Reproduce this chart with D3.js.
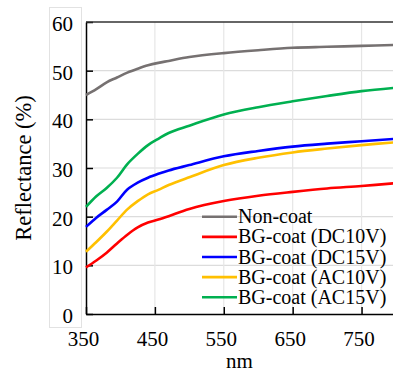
<!DOCTYPE html>
<html>
<head>
<meta charset="utf-8">
<script src="https://cdn.jsdelivr.net/npm/d3@7"></script>
<style>
  body { margin: 0; background: #fff; }
  svg { display: block; font-family: "Liberation Serif", "Times New Roman", serif; }
</style>
</head>
<body>
<div id="chart"></div>
<script>
// wavelength (nm)
const wavelengths = [350, 365, 380, 395, 410, 425, 440, 455, 470, 500, 550, 600, 650, 700, 750, 800];

// reflectance (%) per sample
const nonCoat = [45.0, 46.2, 47.6, 48.6, 49.6, 50.4, 51.1, 51.6, 52.0, 52.8, 53.6, 54.2, 54.7, 54.9, 55.1, 55.3];
const dc10v   = [9.6, 11.0, 12.6, 14.5, 16.3, 17.8, 18.8, 19.4, 20.1, 21.6, 23.2, 24.3, 25.1, 25.8, 26.3, 26.9];
const dc15v   = [17.9, 19.8, 21.4, 23.1, 25.6, 27.0, 28.0, 28.8, 29.5, 30.6, 32.4, 33.5, 34.4, 35.0, 35.5, 36.0];
const ac10v   = [12.8, 14.8, 16.9, 19.2, 21.5, 23.2, 24.6, 25.5, 26.5, 28.1, 30.6, 32.1, 33.2, 34.0, 34.7, 35.3];
const ac15v   = [22.0, 24.2, 25.9, 28.0, 30.8, 32.9, 34.7, 36.0, 37.2, 38.7, 41.0, 42.5, 43.7, 44.8, 45.8, 46.5];

const seriesNames = ['Non-coat', 'BG-coat (DC10V)', 'BG-coat (DC15V)', 'BG-coat (AC10V)', 'BG-coat (AC15V)'];
const seriesValues = [nonCoat, dc10v, dc15v, ac10v, ac15v];
const seriesColors = ['#767171', '#ff0000', '#0000ff', '#ffc000', '#00b050'];

const xTicks = [350, 450, 550, 650, 750];
const yTicks = [0, 10, 20, 30, 40, 50, 60];

const width = 393, height = 373;
const plot = { left: 86, top: 22, right: 396, bottom: 314 };
const font = '"Liberation Serif", "Times New Roman", serif';

const svg = d3.select('#chart')
  .append('svg')
    .attr('width', width)
    .attr('height', height);

const x = d3.scaleLinear().domain([350, 800]).range([plot.left, plot.right]);
const y = d3.scaleLinear().domain([0, 60]).range([plot.bottom, plot.top]);

// light box behind the y tick labels
svg.append('rect')
  .attr('x', 49.5).attr('y', 7.5)
  .attr('width', 32).attr('height', 320)
  .attr('fill', '#fff')
  .attr('stroke', '#e2e2e2');

// gridlines
svg.append('g')
  .selectAll('line')
  .data(yTicks.filter(d => d > 0 && d < 60))
  .enter().append('line')
    .attr('x1', plot.left).attr('x2', plot.right)
    .attr('y1', d => y(d)).attr('y2', d => y(d))
    .attr('stroke', '#dcdcdc').attr('stroke-width', 1.2);

svg.append('g')
  .selectAll('line')
  .data(xTicks.filter(d => d > 350))
  .enter().append('line')
    .attr('x1', d => x(d)).attr('x2', d => x(d))
    .attr('y1', plot.top).attr('y2', plot.bottom)
    .attr('stroke', '#e6e6e6').attr('stroke-width', 1.2);

// axes (ticks pointing inward)
const xAxis = svg.append('g')
  .attr('transform', `translate(0,${plot.bottom})`)
  .call(d3.axisBottom(x).tickValues(xTicks).tickSizeInner(-7).tickSizeOuter(0).tickPadding(0))
  .attr('font-family', font);
xAxis.select('.domain').attr('stroke', '#000').attr('stroke-width', 1.5);
xAxis.selectAll('.tick line').attr('stroke', '#000').attr('stroke-width', 1.5);
xAxis.selectAll('.tick text')
  .attr('font-size', 21).attr('fill', '#000')
  .attr('y', 32).attr('dy', 0).attr('dx', -3);

const yAxis = svg.append('g')
  .attr('transform', `translate(${plot.left},0)`)
  .call(d3.axisLeft(y).tickValues(yTicks).tickSizeInner(-7).tickSizeOuter(0))
  .attr('font-family', font);
yAxis.select('.domain').attr('stroke', '#000').attr('stroke-width', 1.5);
yAxis.selectAll('.tick line').attr('stroke', '#000').attr('stroke-width', 1.5);
yAxis.selectAll('.tick text')
  .attr('font-size', 21).attr('fill', '#000')
  .attr('x', -13).attr('dy', '0.4em');

// top frame line
svg.append('line')
  .attr('x1', plot.left).attr('x2', plot.right)
  .attr('y1', plot.top).attr('y2', plot.top)
  .attr('stroke', '#333').attr('stroke-width', 1.5);

// lines
const line = d3.line()
  .x((d, i) => x(wavelengths[i]))
  .y(d => y(d))
  .curve(d3.curveCatmullRom.alpha(0.5));

svg.append('g')
  .selectAll('path')
  .data(seriesValues)
  .enter().append('path')
    .attr('d', d => line(d))
    .attr('fill', 'none')
    .attr('stroke', (d, i) => seriesColors[i])
    .attr('stroke-width', 2.6);

// axis labels
svg.append('text')
  .attr('transform', 'rotate(-90)')
  .attr('x', -168)
  .attr('y', 31)
  .attr('text-anchor', 'middle')
  .attr('font-size', 22.5)
  .text('Reflectance (%)');

svg.append('text')
  .attr('x', 239.5)
  .attr('y', 368)
  .attr('text-anchor', 'middle')
  .attr('font-size', 21)
  .text('nm');

// legend
const legend = svg.append('g')
  .selectAll('g')
  .data(seriesNames)
  .enter().append('g')
    .attr('transform', (d, i) => `translate(202,${216.7 + i * 20.15})`);

legend.append('line')
  .attr('x1', 0).attr('x2', 35)
  .attr('stroke', (d, i) => seriesColors[i])
  .attr('stroke-width', 2.6);

legend.append('text')
  .attr('x', 36)
  .attr('dy', '0.33em')
  .attr('font-size', 20)
  .text(d => d);
</script>
</body>
</html>
